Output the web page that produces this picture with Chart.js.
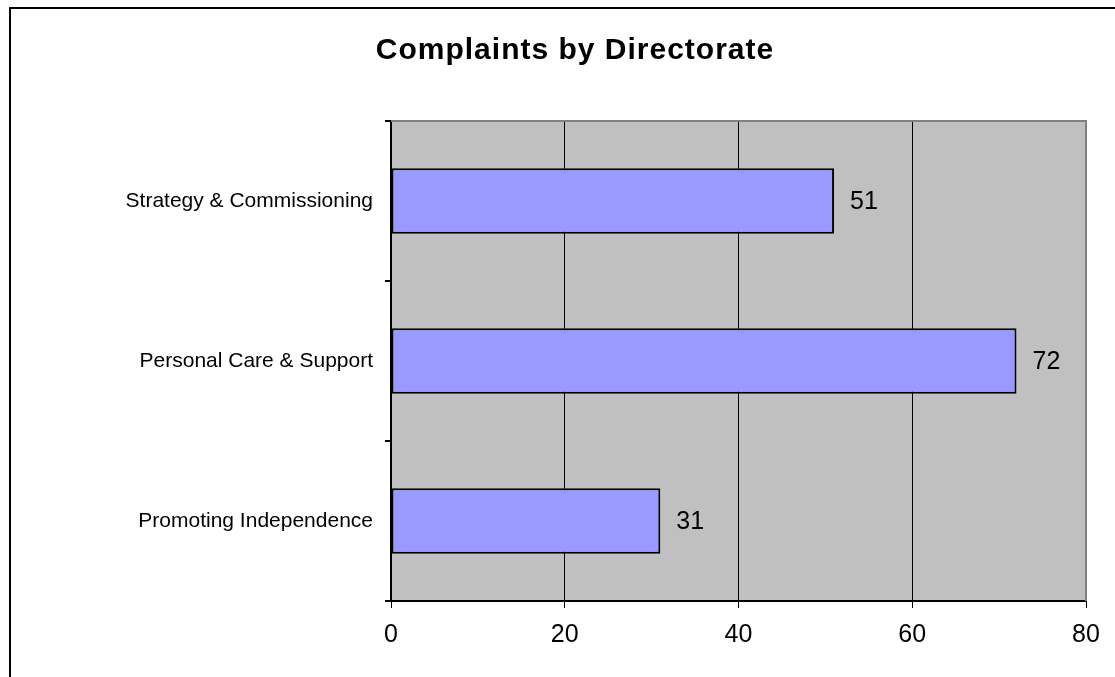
<!DOCTYPE html>
<html>
<head>
<meta charset="utf-8">
<script src="https://cdn.jsdelivr.net/npm/chart.js@4"></script>
<style>
  html, body { margin: 0; padding: 0; background: #ffffff; }
  #wrap { width: 1115px; height: 677px; position: relative; }
</style>
</head>
<body>
<div id="wrap"><canvas id="c" width="1115" height="677"></canvas></div>
<script>
// Complaints received, by directorate
const chartTitle = 'Complaints by Directorate';
const directorates = ['Strategy & Commissioning', 'Personal Care & Support', 'Promoting Independence'];
const complaints = [51, 72, 31];
const axisTicks = [0, 20, 40, 60, 80];

const FONT = '"Liberation Sans", Arial, Helvetica, sans-serif';

// Outer frame, grey plot background and plot border
const framePlugin = {
  id: 'frame',
  beforeDraw(chart) {
    const { ctx, chartArea: a } = chart;
    ctx.save();
    ctx.fillStyle = '#ffffff';
    ctx.fillRect(0, 0, chart.width, chart.height);
    ctx.strokeStyle = '#000000';
    ctx.lineWidth = 2;
    ctx.beginPath();
    ctx.moveTo(10, chart.height + 5);
    ctx.lineTo(10, 8);
    ctx.lineTo(chart.width + 5, 8);
    ctx.stroke();
    ctx.fillStyle = '#C0C0C0';
    ctx.fillRect(a.left, a.top, a.right - a.left, a.bottom - a.top);
    ctx.restore();
  },
  beforeDatasetsDraw(chart) {
    const { ctx, chartArea: a } = chart;
    ctx.save();
    ctx.strokeStyle = '#808080';
    ctx.lineWidth = 2;
    ctx.beginPath();
    ctx.moveTo(a.left, a.top);
    ctx.lineTo(a.right, a.top);
    ctx.lineTo(a.right, a.bottom);
    ctx.stroke();
    ctx.restore();
  },
  afterDraw(chart) {
    const { ctx } = chart;
    ctx.save();
    ctx.fillStyle = '#000000';
    ctx.font = 'bold 30px ' + FONT;
    ctx.textAlign = 'center';
    ctx.textBaseline = 'alphabetic';
    if ('letterSpacing' in ctx) ctx.letterSpacing = '1px';
    ctx.fillText(chartTitle, 575, 59);
    ctx.restore();
  }
};

// Value written just past the end of each bar
const valueLabels = {
  id: 'valueLabels',
  afterDatasetsDraw(chart) {
    const { ctx } = chart;
    const meta = chart.getDatasetMeta(0);
    ctx.save();
    ctx.fillStyle = '#000000';
    ctx.font = '25px ' + FONT;
    ctx.textAlign = 'left';
    ctx.textBaseline = 'middle';
    meta.data.forEach((bar, i) => {
      ctx.fillText(String(complaints[i]), bar.x + 16, bar.y + 1);
    });
    ctx.restore();
  }
};

new Chart(document.getElementById('c'), {
  type: 'bar',
  data: {
    labels: directorates,
    datasets: [{
      data: complaints,
      backgroundColor: '#9999FF',
      borderColor: '#000000',
      borderWidth: 2,
      borderSkipped: false,
      barPercentage: 0.41,
      categoryPercentage: 1.0
    }]
  },
  options: {
    indexAxis: 'y',
    responsive: false,
    animation: false,
    layout: { padding: { top: 121, right: 29, bottom: 0, left: 0 } },
    plugins: {
      legend: { display: false },
      title: { display: false },
      tooltip: { enabled: false }
    },
    scales: {
      x: {
        min: 0,
        max: 80,
        afterBuildTicks(scale) { scale.ticks = axisTicks.map(v => ({ value: v })); },
        afterFit(scale) { scale.height = 76; },
        border: { display: true, color: '#000000', width: 2 },
        grid: {
          color: ctx => (ctx.tick && ctx.tick.value === 80) ? 'rgba(0,0,0,0)' : '#000000',
          lineWidth: 1,
          tickColor: '#000000',
          tickLength: 7,
          drawTicks: true
        },
        ticks: {
          color: '#000000',
          font: { family: FONT, size: 25 },
          padding: 12,
          maxRotation: 0
        }
      },
      y: {
        afterFit(scale) { scale.width = 391; },
        border: { display: true, color: '#000000', width: 2 },
        grid: {
          offset: true,
          drawOnChartArea: false,
          drawTicks: true,
          tickLength: 6,
          tickColor: '#000000',
          lineWidth: 2
        },
        ticks: {
          color: '#000000',
          font: { family: FONT, size: 21 },
          padding: 12
        }
      }
    }
  },
  plugins: [framePlugin, valueLabels]
});
</script>
</body>
</html>
